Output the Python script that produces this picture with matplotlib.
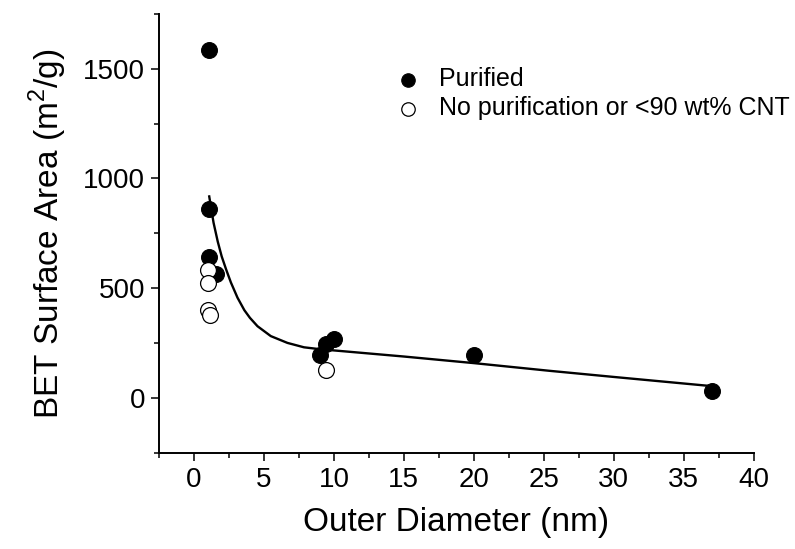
import numpy as np
import matplotlib
matplotlib.use("Agg")
import matplotlib.pyplot as plt
from matplotlib.ticker import MultipleLocator

plt.rcParams["font.family"] = ["Liberation Sans", "DejaVu Sans"]
plt.rcParams["mathtext.fontset"] = "custom"
plt.rcParams["mathtext.rm"] = "Liberation Sans"

# purified samples
pur_x = [1.1, 1.05, 1.05, 1.6, 9.0, 9.4, 10.0, 20.0, 37.0]
pur_y = [1587, 861, 643, 567, 195, 248, 271, 198, 33]

# no purification or <90 wt% CNT
raw_x = [1.0, 1.0, 1.0, 1.15, 9.4]
raw_y = [585, 526, 403, 377, 129]

# fitted trend line
fit_x = [1.09, 1.25, 1.40, 1.70, 1.98, 2.30, 2.64, 3.11, 3.6, 4.0, 4.54,
         5.49, 6.68, 7.86, 9.05, 10.5, 15.0, 20.0, 25.4, 30.0, 36.7]
fit_y = [918, 855, 798, 712, 645, 585, 526, 457, 400, 365, 327,
         282, 251, 231, 222, 214, 189, 159, 124, 96, 56]

fig = plt.figure(figsize=(7.95, 5.49), dpi=100)
ax = fig.add_axes([0.2, 0.175, 0.748, 0.8])

ax.plot(fit_x, fit_y, color="black", lw=1.7, zorder=2)
ax.scatter(pur_x, pur_y, s=130, c="black", edgecolors="black",
           linewidths=0.8, zorder=3, label="Purified")
ax.scatter(raw_x, raw_y, s=130, facecolors="white", edgecolors="black",
           linewidths=0.9, zorder=4, label="No purification or <90 wt% CNT")

ax.set_xlim(-2.5, 40)
ax.set_ylim(-250, 1750)
ax.xaxis.set_major_locator(MultipleLocator(5))
ax.xaxis.set_minor_locator(MultipleLocator(2.5))
ax.yaxis.set_major_locator(MultipleLocator(500))
ax.yaxis.set_minor_locator(MultipleLocator(250))

for s in ("top", "right"):
    ax.spines[s].set_visible(False)
for s in ("left", "bottom"):
    ax.spines[s].set_linewidth(1.4)

ax.tick_params(which="major", direction="out", length=6, width=1.1,
               labelsize=20, pad=4)
ax.tick_params(which="minor", direction="out", length=3.6, width=1.1)

ax.set_xlabel("Outer Diameter (nm)", fontsize=24, labelpad=10)
ax.set_ylabel(r"BET Surface Area (m$^{2}$/g)", fontsize=24, labelpad=10)

ax.legend(loc="upper left", bbox_to_anchor=(0.482, 0.9005),
          bbox_transform=fig.transFigure, frameon=False, fontsize=18,
          handlelength=1.0, handletextpad=0.74, labelspacing=0.2,
          borderpad=0, markerscale=0.85, scatterpoints=1)

fig.savefig("out.png", dpi=100)
